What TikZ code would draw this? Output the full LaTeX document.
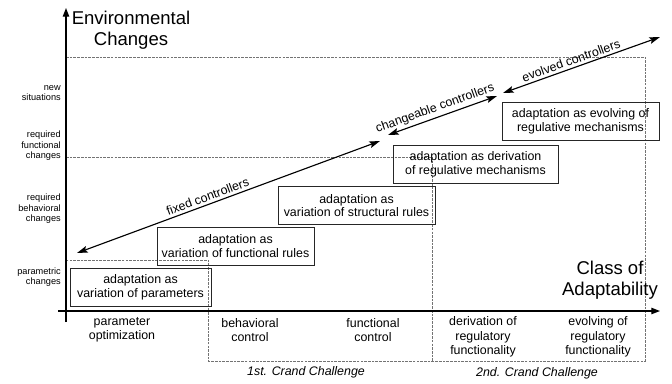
\documentclass[tikz,border=0pt]{standalone}
\usepackage{fontspec}
\setmainfont{Liberation Sans}
\usetikzlibrary{arrows.meta}
\def\normsz{\fontsize{9.3}{10.2}\selectfont}
\def\bigsz{\fontsize{13.9}{15.8}\selectfont}
\def\smallsz{\fontsize{6.9}{7.9}\selectfont}
\def\axsz{\fontsize{9.3}{10.9}\selectfont}
\tikzset{
	adabox/.style={draw=black!85, line width=0.6pt, align=center, font=\normsz, minimum height=28.5pt, inner sep=0pt},
	gridline/.style={draw=black!55, line width=0.45pt, dash pattern=on 2pt off 0.8pt},
	axis/.style={line width=0.9pt, -{Triangle[length=6.5pt,width=4.8pt]}},
	ctrl/.style={line width=0.85pt, {Stealth[length=8pt,width=5pt,inset=1.5pt]}-{Stealth[length=8pt,width=5pt,inset=1.5pt]}},
	ctrllbl/.style={font=\normsz, sloped, above, inner sep=2pt},
	ylbl/.style={font=\smallsz, align=right, anchor=east, inner sep=0pt},
	xlbl/.style={font=\axsz, align=center, inner sep=0pt}
}

\begin{document}
\begin{tikzpicture}[x=0.75pt, y=-0.75pt]
			%%%%% START %%%%%
			\useasboundingbox (0,0) rectangle (672,383);
			
			% challenge regions
			\draw[gridline] (66,57) -- (645,57) -- (645,361) -- (208,361) -- (208,260) -- (66,260);
			\draw[gridline] (66,157) -- (432,157) -- (432,361);
			
			% axes
			\draw[axis] (66,322) -- (66,8);
			\draw[axis] (58,311) -- (660,311);
			
			\node[font=\bigsz, align=center, inner sep=0pt] (envlbl) at (131,30) {Environmental\\Changes};
			\node[font=\bigsz, align=center, inner sep=0pt] (clslbl) at (610,280) {Class of\\Adaptability};
			
			% environmental changes
			\node[ylbl] (newsit) at (61,93) {new\\situations};
			\node[ylbl] (reqfun) at (61,146) {required\\functional\\changes};
			\node[ylbl] (reqbeh) at (61,209) {required\\behavioral\\changes};
			\node[ylbl] (parchg) at (61,277) {parametric\\changes};
			
			% classes of adaptability
			\node[xlbl] (paropt) at (122,330) {parameter\\optimization};
			\node[xlbl] (behctl) at (250,330) {behavioral\\control};
			\node[xlbl] (functl) at (373,330) {functional\\control};
			\node[xlbl] (derreg) at (483,337) {derivation of\\regulatory\\functionality};
			\node[xlbl] (evoreg) at (598,337) {evolving of\\regulatory\\functionality};
			
			\node[font=\normsz\itshape] (chal1) at (306,372) {1st. Crand Challenge};
			\node[font=\normsz\itshape] (chal2) at (537,373) {2nd. Crand Challenge};
			
			% adaptation boxes
			\node[adabox, minimum width=105.75pt] (parbox) at (140.5,287) {adaptation as\\variation of parameters};
			\node[adabox, minimum width=117.75pt] (funbox) at (235.5,246) {adaptation as\\variation of functional rules};
			\node[adabox, minimum width=117.75pt] (strbox) at (356.5,205.5) {adaptation as\\variation of structural rules};
			\node[adabox, minimum width=123.75pt] (derbox) at (475.5,164.5) {adaptation as derivation\\of regulative mechanisms};
			\node[adabox, minimum width=117.75pt] (evobox) at (580.5,121.5) {adaptation as evolving of\\regulative mechanisms};
			
			% controllers
			\coordinate (fixA) at (77,253);
			\coordinate (fixB) at (380,141);
			\coordinate (chgA) at (388,135);
			\coordinate (chgB) at (497,96);
			\coordinate (evoA) at (503,93);
			\coordinate (evoB) at (660,37);
			\draw[ctrl] (fixA) -- node[ctrllbl, pos=0.44] (fixlbl) {fixed controllers} (fixB);
			\draw[ctrl] (chgA) -- node[ctrllbl, pos=0.46] (chglbl) {changeable controllers} (chgB);
			\draw[ctrl] (evoA) -- node[ctrllbl, pos=0.45] (evolbl) {evolved controllers} (evoB);
			
			%%%%% END %%%%%
		\end{tikzpicture}
\end{document}
